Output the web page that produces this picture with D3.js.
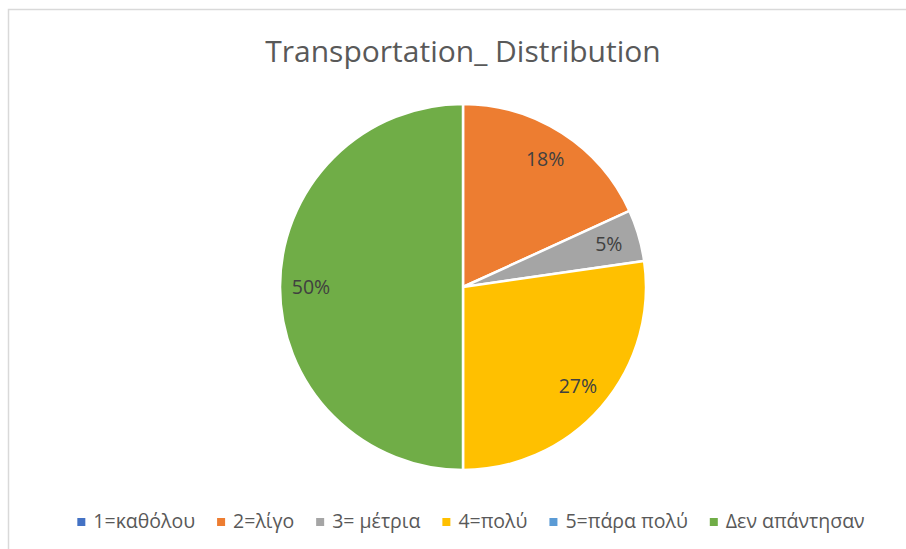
<!DOCTYPE html>
<html>
<head>
<meta charset="utf-8">
<script src="https://cdn.jsdelivr.net/npm/d3@7"></script>
<style>
  body { margin: 0; background: #fff; }
  text { font-family: "Open Sans", "Noto Sans", sans-serif; }
</style>
</head>
<body>
<svg id="chart" width="906" height="549"></svg>
<script>
// answers per category
var categories = ["1=καθόλου", "2=λίγο", "3= μέτρια", "4=πολύ", "5=πάρα πολύ", "Δεν απάντησαν"];
var counts = [0, 4, 1, 6, 0, 11];
var colors = ["#4472C4", "#ED7D31", "#A5A5A5", "#FFC000", "#5B9BD5", "#70AD47"];
var title = "Transportation_ Distribution";

var svg = d3.select("#chart");
var cx = 463, cy = 287, r = 183;

// chart frame
svg.append("rect")
	.attr("x", 8.5).attr("y", 9.5)
	.attr("width", 906).attr("height", 560)
	.attr("fill", "none")
	.attr("stroke", "#d9d9d9")
	.attr("stroke-width", 1.5);

svg.append("text")
	.attr("x", cx).attr("y", 62)
	.attr("text-anchor", "middle")
	.attr("font-size", 30)
	.attr("fill", "#595959")
	.text(title);

var data = categories.map(function(c, i) { return {name: c, value: counts[i], color: colors[i]}; });
var total = d3.sum(counts);

var pie = d3.pie().sort(null).value(function(d) { return d.value; });
var arc = d3.arc().innerRadius(0).outerRadius(r);
var labelArc = d3.arc().innerRadius(152).outerRadius(152);

var g = svg.append("g").attr("transform", "translate(" + cx + "," + cy + ")");

var slices = pie(data).filter(function(d) { return d.data.value > 0; });

g.selectAll("path")
	.data(slices)
	.enter()
	.append("path")
	.attr("d", arc)
	.attr("fill", function(d) { return d.data.color; })
	.attr("stroke", "#fff")
	.attr("stroke-width", 2.5);

g.selectAll("text.lbl")
	.data(slices)
	.enter()
	.append("text")
	.attr("class", "lbl")
	.attr("transform", function(d) { return "translate(" + labelArc.centroid(d) + ")"; })
	.attr("text-anchor", "middle")
	.attr("dy", "0.35em")
	.attr("font-size", 19.5)
	.attr("fill", "#404040")
	.text(function(d) { return Math.round(d.data.value / total * 100) + "%"; });

// legend, laid out left to right then centered
var legend = svg.append("g");
var xpos = 0;
data.forEach(function(d) {
	var item = legend.append("g").attr("transform", "translate(" + xpos + ",0)");
	item.append("rect")
		.attr("x", 0).attr("y", -10)
		.attr("width", 8).attr("height", 8)
		.attr("fill", d.color);
	var t = item.append("text")
		.attr("x", 16).attr("y", 0)
		.attr("font-size", 19.5)
		.attr("fill", "#595959")
		.text(d.name);
	xpos += 16 + t.node().getComputedTextLength() + 22;
});
var legendWidth = xpos - 22;
legend.attr("transform", "translate(" + (471 - legendWidth / 2) + ",528)");
</script>
</body>
</html>
